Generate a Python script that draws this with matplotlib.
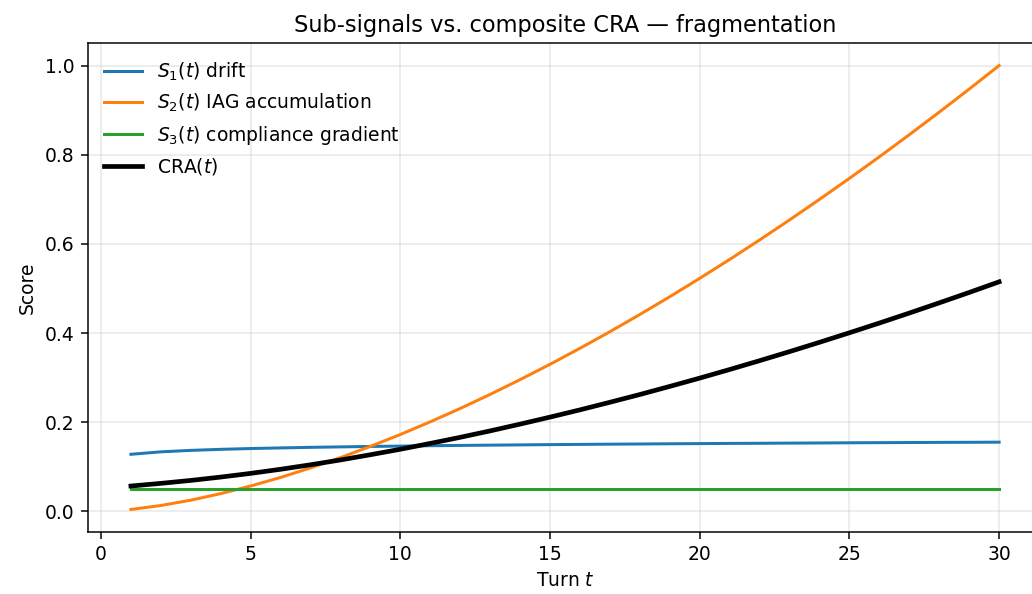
import matplotlib
matplotlib.use('Agg')
import matplotlib.pyplot as plt

turns = list(range(1, 31))
s1_drift = [0.128, 0.1335, 0.1368, 0.1391, 0.1409, 0.1423, 0.1436, 0.1446, 0.1456, 0.1464,
            0.1472, 0.1479, 0.1485, 0.1491, 0.1497, 0.1502, 0.1507, 0.1511, 0.1516, 0.1520,
            0.1524, 0.1527, 0.1531, 0.1534, 0.1538, 0.1541, 0.1544, 0.1547, 0.1549, 0.1552]
s2_iag = [0.0043, 0.0131, 0.0251, 0.0398, 0.0569, 0.0761, 0.0975, 0.1206, 0.1457, 0.1724,
          0.2009, 0.2308, 0.2624, 0.2955, 0.3299, 0.3658, 0.4030, 0.4416, 0.4815, 0.5227,
          0.5651, 0.6088, 0.6537, 0.6998, 0.7470, 0.7953, 0.8449, 0.8955, 0.9472, 1.0]
s3_compliance = [0.05] * 30
cra = [0.0568, 0.0628, 0.0694, 0.0769, 0.0852, 0.0944, 0.1045, 0.1153, 0.1270, 0.1393,
       0.1524, 0.1661, 0.1805, 0.1957, 0.2114, 0.2277, 0.2447, 0.2621, 0.2803, 0.2989,
       0.3182, 0.3380, 0.3583, 0.3792, 0.4006, 0.4224, 0.4448, 0.4677, 0.4910, 0.5149]

DPI = 135
fig, ax = plt.subplots(figsize=(1032 / DPI, 594 / DPI), dpi=DPI)
# right edge of the axes runs a little past the figure, as in the cropped original
fig.subplots_adjust(left=0.0848, right=1.0102, top=0.927, bottom=0.105)

ax.plot(turns, s1_drift, color='#1f77b4', lw=1.6, label=r'$S_1(t)$ drift')
ax.plot(turns, s2_iag, color='#ff7f0e', lw=1.6, label=r'$S_2(t)$ IAG accumulation')
ax.plot(turns, s3_compliance, color='#2ca02c', lw=1.6, label=r'$S_3(t)$ compliance gradient')
ax.plot(turns, cra, color='black', lw=2.5, label=r'CRA$(t)$')

ax.set_xlabel(r'Turn $t$')
ax.set_ylabel('Score')
ax.set_title('Sub-signals vs. composite CRA — fragmentation')
ax.grid(True, alpha=0.3)
ax.legend(loc='upper left', frameon=False)

fig.savefig('out.png', dpi=DPI)
